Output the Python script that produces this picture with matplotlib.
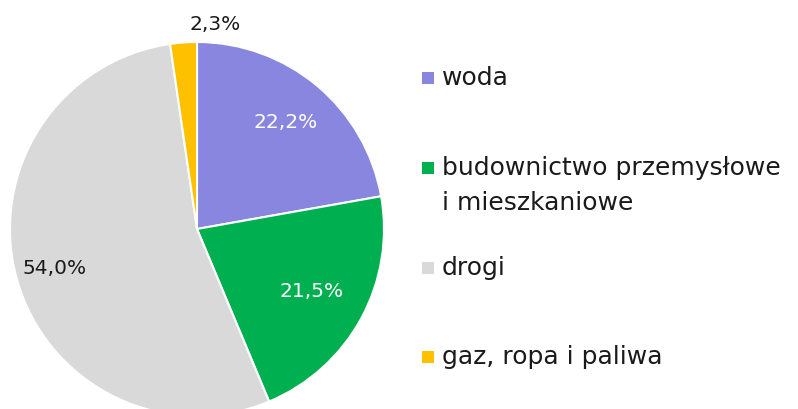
import numpy as np
import matplotlib
matplotlib.use('Agg')
import matplotlib.pyplot as plt
from matplotlib.patches import Rectangle

labels = ['woda', 'budownictwo przemysłowe\ni mieszkaniowe', 'drogi', 'gaz, ropa i paliwa']
values = [22.2, 21.5, 54.0, 2.3]
colors = ['#8886DE', '#00B050', '#D9D9D9', '#FFC000']
text_colors = ['white', 'white', '#1a1a1a', '#1a1a1a']
label_r = [0.74, 0.70, 0.79, 1.10]

plt.rcParams['font.family'] = ['DejaVu Sans']

W, H = 798, 409
fig = plt.figure(figsize=(W / 100, H / 100), dpi=100)

cx, cy, r = 197, 229, 187
ax = fig.add_axes([(cx - r) / W, (H - cy - r) / H, 2 * r / W, 2 * r / H])
wedges, _ = ax.pie(values, colors=colors, startangle=90, counterclock=False,
                   radius=1, wedgeprops=dict(edgecolor='white', linewidth=1.5))
ax.set_xlim(-1, 1)
ax.set_ylim(-1, 1)
ax.set_aspect('equal')
ax.axis('off')

for w, v, tc, lr in zip(wedges, values, text_colors, label_r):
    ang = np.deg2rad((w.theta1 + w.theta2) / 2)
    if lr > 1:
        ang = np.deg2rad(85)
    ax.text(lr * np.cos(ang), lr * np.sin(ang), f'{v:.1f}%'.replace('.', ','),
            color=tc, fontsize=14.5, ha='center', va='center')

# legend
leg_y = [78, 168, 268, 357]
for lab, c, y in zip(labels, colors, leg_y):
    fig.add_artist(Rectangle((422 / W, (H - y - 6) / H), 12 / W, 12 / H,
                             transform=fig.transFigure, facecolor=c, edgecolor='none'))
    lines = lab.split('\n')
    for i, line in enumerate(lines):
        fig.text(442 / W, (H - y - 35 * i) / H, line, fontsize=18,
                 color='#1a1a1a', va='center', ha='left')

fig.savefig('out.png', dpi=100)
